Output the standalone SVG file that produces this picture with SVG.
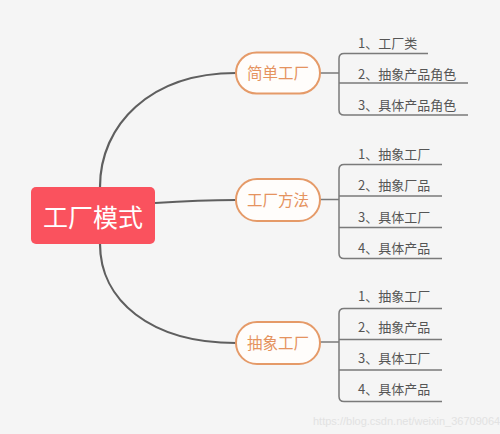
<svg xmlns="http://www.w3.org/2000/svg" width="500" height="434" viewBox="0 0 500 434">
<style>
.main{stroke:#5f5f5f;stroke-width:2.2;fill:none}
.sub{stroke:#7a7a7a;stroke-width:1.5;fill:none}
.pill{fill:#fffdfb;stroke:#e59a68;stroke-width:2}
.ptxt{font-family:"Noto Sans CJK SC",sans-serif;font-size:15.5px;fill:#e5935f;text-anchor:middle}
.leaf{font-family:"Noto Sans CJK SC",sans-serif;font-size:13px;fill:#555}
</style>
<rect width="500" height="434" fill="#f5f5f5"/>
<g id="connectors">
<path class="main" d="M100 187 C100 125 150 73 236 73"/>
<path class="main" d="M155 203 C185 201 210 200 236 200"/>
<path class="main" d="M100 244 C100 300 150 343 236 343"/>
<path class="sub" d="M320 73 H339 M428 53.5 H344 Q339 53.5 339 58.5 V110 Q339 115 344 115 H468 M339 83 H468"/>
<path class="sub" d="M320 199.5 H339 M442 164.5 H344 Q339 164.5 339 169.5 V253.5 Q339 258.5 344 258.5 H442 M339 196 H442 M339 227.5 H442"/>
<path class="sub" d="M320 342 H339 M442 308.5 H344 Q339 308.5 339 313.5 V396.5 Q339 401.5 344 401.5 H442 M339 339.5 H442 M339 370 H442"/>
</g>
<g id="root">
<rect x="31" y="187" width="124" height="57" rx="5" fill="#fa525e"/>
<text x="93" y="227" font-family="'Noto Sans CJK SC',sans-serif" font-size="25" fill="#fff" text-anchor="middle">工厂模式</text>
</g>
<g id="n1">
<rect class="pill" x="236" y="52.5" width="84" height="41" rx="20.5"/>
<text class="ptxt" x="278" y="79">简单工厂</text>
</g>
<g id="n2">
<rect class="pill" x="236" y="179" width="84" height="42" rx="21"/>
<text class="ptxt" x="278" y="206">工厂方法</text>
</g>
<g id="n3">
<rect class="pill" x="236" y="322" width="84" height="42" rx="21"/>
<text class="ptxt" x="278" y="349">抽象工厂</text>
</g>
<g id="leaves1">
<text class="leaf" x="358" y="48">1、工厂类</text>
<text class="leaf" x="358" y="79">2、抽象产品角色</text>
<text class="leaf" x="358" y="110">3、具体产品角色</text>
</g>
<g id="leaves2">
<text class="leaf" x="358" y="159">1、抽象工厂</text>
<text class="leaf" x="358" y="190">2、抽象厂品</text>
<text class="leaf" x="358" y="222">3、具体工厂</text>
<text class="leaf" x="358" y="253">4、具体产品</text>
</g>
<g id="leaves3">
<text class="leaf" x="358" y="301">1、抽象工厂</text>
<text class="leaf" x="358" y="332">2、抽象产品</text>
<text class="leaf" x="358" y="363">3、具体工厂</text>
<text class="leaf" x="358" y="394">4、具体产品</text>
</g>
<text x="313" y="425" font-family="'Liberation Sans',sans-serif" font-size="11" fill="#e2e2e2">https://blog.csdn.net/weixin_36709064</text>
</svg>
